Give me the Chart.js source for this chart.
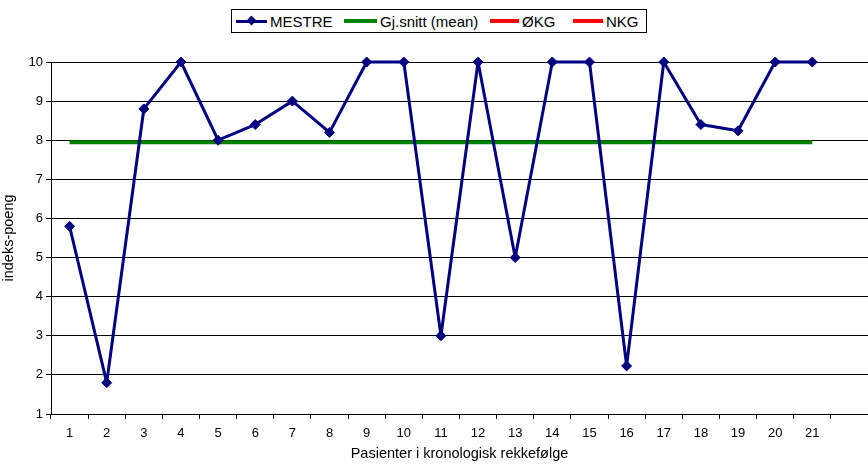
<!DOCTYPE html>
<html>
<head>
<meta charset="utf-8">
<script src="https://cdn.jsdelivr.net/npm/chart.js@4/dist/chart.umd.min.js"></script>
<style>
  html, body { margin: 0; padding: 0; background: #fff; }
  #wrap { position: relative; width: 868px; height: 465px; font-family: "Liberation Sans", Arial, sans-serif; }
  canvas { position: absolute; left: 0; top: 0; }
  #legend { position: absolute; left: 231px; top: 9px; width: 414px; height: 22px; border: 1px solid #000; background: #fff; font-size: 15px; color: #000; }
  .li { position: absolute; top: 0; height: 22px; line-height: 23px; white-space: nowrap; }
  .ln { position: absolute; top: 10px; height: 3px; }
  .dm { position: absolute; width: 7px; height: 7px; background: #000080; transform: rotate(45deg); top: 7px; }
</style>
</head>
<body>
<div id="wrap">
  <canvas id="c" width="868" height="465"></canvas>
  <div id="legend"></div>
</div>
<script>
const categories = ['1','2','3','4','5','6','7','8','9','10','11','12','13','14','15','16','17','18','19','20','21',''];
const mestre = [5.8, 1.8, 8.8, 10, 8.0, 8.4, 9.0, 8.2, 10, 10, 3.0, 10, 5.0, 10, 10, 2.23, 10, 8.4, 8.24, 10, 10];
const mean = [7.95, 7.95, 7.95, 7.95, 7.95, 7.95, 7.95, 7.95, 7.95, 7.95, 7.95, 7.95, 7.95, 7.95, 7.95, 7.95, 7.95, 7.95, 7.95, 7.95, 7.95];
const okg = [];
const nkg = [];
const seriesNames = ['MESTRE', 'Gj.snitt (mean)', 'ØKG', 'NKG'];
const yTicks = [1, 2, 3, 4, 5, 6, 7, 8, 9, 10];

// HTML legend
const legend = document.getElementById('legend');
const legendItems = [
  { name: seriesNames[0], color: '#000080', x: 4, w: 31, lw: 3, marker: true },
  { name: seriesNames[1], color: '#008000', x: 112, w: 33, lw: 4 },
  { name: seriesNames[2], color: '#FF0000', x: 258, w: 29, lw: 4 },
  { name: seriesNames[3], color: '#FF0000', x: 341, w: 30, lw: 4 }
];
legendItems.forEach(it => {
  const ln = document.createElement('div');
  ln.className = 'ln';
  ln.style.left = it.x + 'px';
  ln.style.width = it.w + 'px';
  ln.style.height = it.lw + 'px';
  ln.style.top = (11 - it.lw / 2) + 'px';
  ln.style.background = it.color;
  legend.appendChild(ln);
  if (it.marker) {
    const dm = document.createElement('div');
    dm.className = 'dm';
    dm.style.left = (it.x + it.w / 2 - 3.5) + 'px';
    legend.appendChild(dm);
  }
  const t = document.createElement('div');
  t.className = 'li';
  t.style.left = (it.x + it.w + 3) + 'px';
  t.textContent = it.name;
  legend.appendChild(t);
});

const tickFont = { family: '"Liberation Sans", Arial, sans-serif', size: 13 };
const titleFont = { family: '"Liberation Sans", Arial, sans-serif', size: 14.5 };

new Chart(document.getElementById('c'), {
  type: 'line',
  data: {
    labels: categories,
    datasets: [
      { label: seriesNames[0], data: mestre, borderColor: '#000080', backgroundColor: '#000080', borderWidth: 3,
        borderJoinStyle: 'round',
        pointStyle: 'rectRot', pointRadius: 5, pointHoverRadius: 5, pointBorderWidth: 1, pointBorderColor: '#000080',
        tension: 0, order: 1, clip: false },
      { label: seriesNames[1], data: mean, borderColor: '#008000', backgroundColor: '#008000', borderWidth: 4,
        pointRadius: 0, tension: 0, order: 2, clip: false },
      { label: seriesNames[2], data: okg, borderColor: '#FF0000', backgroundColor: '#FF0000', borderWidth: 4, pointRadius: 0 },
      { label: seriesNames[3], data: nkg, borderColor: '#FF0000', backgroundColor: '#FF0000', borderWidth: 4, pointRadius: 0 }
    ]
  },
  options: {
    responsive: false,
    animation: false,
    devicePixelRatio: 1,
    layout: { autoPadding: false, padding: { top: 62, left: 0, right: 0, bottom: 0 } },
    plugins: { legend: { display: false }, tooltip: { enabled: false } },
    scales: {
      x: {
        type: 'category',
        offset: true,
        grid: { offset: true, drawOnChartArea: false, drawTicks: true, tickLength: 5, color: '#000' },
        border: { display: true, color: '#000', width: 1 },
        ticks: { color: '#000', font: tickFont, padding: 7, maxRotation: 0, autoSkip: false },
        title: { display: true, text: 'Pasienter i kronologisk rekkefølge', color: '#000', font: titleFont, padding: { top: 4, bottom: 2 } },
        afterFit: s => { s.height = 51; }
      },
      y: {
        min: 1, max: 10,
        afterBuildTicks: s => { s.ticks = yTicks.map(v => ({ value: v })); },
        grid: { color: '#000', lineWidth: 1, drawTicks: true, tickLength: 5 },
        border: { display: true, color: '#000', width: 1 },
        ticks: { color: '#000', font: tickFont, padding: 3 },
        title: { display: true, text: 'indeks-poeng', color: '#000', font: titleFont, padding: { top: 0, bottom: 3 } },
        afterFit: s => { s.width = 51; }
      }
    }
  }
});
</script>
</body>
</html>
